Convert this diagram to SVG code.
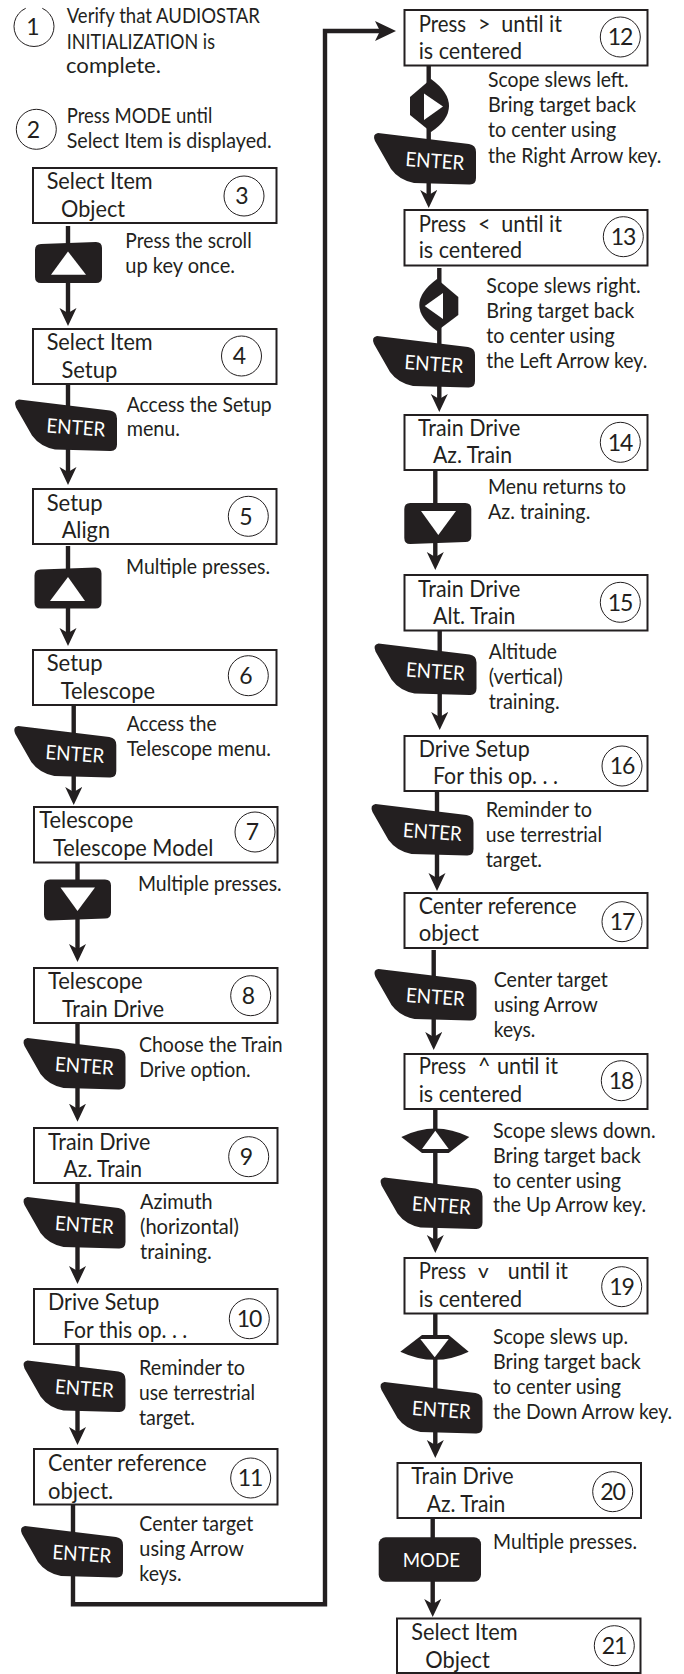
<svg xmlns="http://www.w3.org/2000/svg" width="684" height="1674" viewBox="0 0 684 1674">
<style>
text{font-family:"Lato","Open Sans","Liberation Sans",sans-serif;fill:#231f20}
.b{font-size:23px}
.d{font-size:20.5px}
.n{font-size:23px;text-anchor:middle}
.n2{font-size:23px;text-anchor:middle;letter-spacing:-1px}
.e{font-size:20px;fill:#fff}
.m{font-size:20px;fill:#fff}
.box{fill:#fff;stroke:#231f20;stroke-width:2}
.c{fill:#fff;stroke:#231f20;stroke-width:1}
.k{fill:#231f20}
.w{fill:#fff}
.l{fill:none;stroke:#231f20;stroke-width:4.4}
</style>
<defs>
<marker id="ah" markerUnits="userSpaceOnUse" markerWidth="18" markerHeight="18" refX="10" refY="8.5" orient="auto"><path d="M0,0 L18,8.5 L0,17 L5,8.5 Z" fill="#231f20"/></marker>
<marker id="ah2" markerUnits="userSpaceOnUse" markerWidth="21" markerHeight="21" refX="12" refY="10" orient="auto"><path d="M0,0 L21,10 L0,20 L5,10 Z" fill="#231f20"/></marker>
<path id="enter" d="M4,0 L95,11 Q102,12 102,19 V45 Q102,52 95,51.5 L40,50 Q25,47 17,36 L1,8 Q-2,1 4,0 Z"/>
<path id="kup" d="M6,2 L61,0 Q67,0 67,6 V35 Q67,41 61,41 H6 Q0,41 0,35 V8 Q0,2 6,2 Z"/>
<path id="kdn" d="M6,0 H61 Q67,0 67,6 V33 Q67,39 61,39 L6,41 Q0,41 0,35 V6 Q0,0 6,0 Z"/>
</defs>
<g id="connectors" class="l">
<path d="M68,226 V318" marker-end="url(#ah)"/>
<path d="M68,384 V477" marker-end="url(#ah)"/>
<path d="M68,546 V638" marker-end="url(#ah)"/>
<path d="M73.7,705 V797" marker-end="url(#ah)"/>
<path d="M77.5,863 V954" marker-end="url(#ah)"/>
<path d="M77.5,1023 V1113.700" marker-end="url(#ah)"/>
<path d="M77.5,1184 V1276" marker-end="url(#ah)"/>
<path d="M77.500,1344 V1437" marker-end="url(#ah)"/>
<path d="M73,1505 V1604.300 H325 V31 H387" marker-end="url(#ah2)"/>
<path d="M428.700,66 V200" marker-end="url(#ah)"/>
<path d="M439.300,268 V404" marker-end="url(#ah)"/>
<path d="M435.300,470 V562" marker-end="url(#ah)"/>
<path d="M439.700,631 V722" marker-end="url(#ah)"/>
<path d="M437,791 V883" marker-end="url(#ah)"/>
<path d="M433.700,950 V1042" marker-end="url(#ah)"/>
<path d="M435.300,1109 V1245" marker-end="url(#ah)"/>
<path d="M435.300,1314 V1450" marker-end="url(#ah)"/>
<path d="M432.700,1518 V1609" marker-end="url(#ah)"/>
</g>
<g id="n1"><path class="c" style="fill:none" d="M25.700,8.300 A20,20 0 1 0 42.300,8.300"/><text class="n" x="33" y="35">1</text>
<text class="d" x="66.700" y="23.300" textLength="193.300" lengthAdjust="spacingAndGlyphs">Verify that AUDIOSTAR</text>
<text class="d" x="66.700" y="48.700" textLength="148.300" lengthAdjust="spacingAndGlyphs">INITIALIZATION is</text>
<text class="d" x="66" y="73.300" textLength="95" lengthAdjust="spacingAndGlyphs">complete.</text></g>
<g id="n2"><circle class="c" cx="36.300" cy="129.300" r="20"/><text class="n" x="33.500" y="138">2</text>
<text class="d" x="66.700" y="123.300" textLength="145.600" lengthAdjust="spacingAndGlyphs">Press MODE until</text>
<text class="d" x="66.700" y="148.300" textLength="205" lengthAdjust="spacingAndGlyphs">Select Item is displayed.</text></g>
<g id="n3"><rect class="box" x="33" y="168" width="243.500" height="55"/><circle class="c" cx="244" cy="196" r="20"/><text class="n" x="242" y="203.500">3</text>
<text class="b" x="46.700" y="189.300" textLength="106" lengthAdjust="spacingAndGlyphs">Select Item</text>
<text class="b" x="61" y="217.300" textLength="64" lengthAdjust="spacingAndGlyphs">Object</text>
<use class="k" href="#kup" x="35" y="242"/><polygon class="w" points="68,251.500 51,274.700 86,274.700"/>
<text class="d" x="125.300" y="248.300" textLength="126.400" lengthAdjust="spacingAndGlyphs">Press the scroll</text>
<text class="d" x="125.300" y="273.300" textLength="109.700" lengthAdjust="spacingAndGlyphs">up key once.</text></g>
<g id="n4"><rect class="box" x="33" y="329" width="243.500" height="55"/><circle class="c" cx="241.500" cy="356" r="20"/><text class="n" x="239.500" y="364">4</text>
<text class="b" x="46.700" y="350" textLength="106" lengthAdjust="spacingAndGlyphs">Select Item</text>
<text class="b" x="61.500" y="377.700" textLength="55.800" lengthAdjust="spacingAndGlyphs">Setup</text>
<use class="k" href="#enter" x="15" y="399.500"/><text class="e" textLength="59" lengthAdjust="spacingAndGlyphs" transform="translate(46,432.500) rotate(4)">ENTER</text>
<text class="d" x="126.700" y="411.700" textLength="145" lengthAdjust="spacingAndGlyphs">Access the Setup</text>
<text class="d" x="126.700" y="436" textLength="53.300" lengthAdjust="spacingAndGlyphs">menu.</text></g>
<g id="n5"><rect class="box" x="33" y="489" width="243.500" height="55"/><circle class="c" cx="248.300" cy="516.300" r="20"/><text class="n" x="246" y="524.500">5</text>
<text class="b" x="46.700" y="511" textLength="56" lengthAdjust="spacingAndGlyphs">Setup</text>
<text class="b" x="61.700" y="538.300" textLength="48.300" lengthAdjust="spacingAndGlyphs">Align</text>
<use class="k" href="#kup" x="34.500" y="567.500"/><polygon class="w" points="68,577 50,601 85,601"/>
<text class="d" x="126" y="574" textLength="144" lengthAdjust="spacingAndGlyphs">Multiple presses.</text></g>
<g id="n6"><rect class="box" x="33" y="650" width="243.500" height="55"/><circle class="c" cx="248.300" cy="675.700" r="20"/><text class="n" x="246" y="684">6</text>
<text class="b" x="46.700" y="671" textLength="56" lengthAdjust="spacingAndGlyphs">Setup</text>
<text class="b" x="60.700" y="699" textLength="94.300" lengthAdjust="spacingAndGlyphs">Telescope</text>
<use class="k" href="#enter" x="14.300" y="726"/><text class="e" textLength="59" lengthAdjust="spacingAndGlyphs" transform="translate(45,759) rotate(4)">ENTER</text>
<text class="d" x="126.700" y="731" textLength="90" lengthAdjust="spacingAndGlyphs">Access the</text>
<text class="d" x="126.700" y="756" textLength="144.300" lengthAdjust="spacingAndGlyphs">Telescope menu.</text></g>
<g id="n7"><rect class="box" x="34" y="807" width="243.500" height="55.500"/><circle class="c" cx="255" cy="832" r="20"/><text class="n" x="252.500" y="840">7</text>
<text class="b" x="39.300" y="827.700" textLength="94" lengthAdjust="spacingAndGlyphs">Telescope</text>
<text class="b" x="53" y="855.700" textLength="160.300" lengthAdjust="spacingAndGlyphs">Telescope Model</text>
<use class="k" href="#kdn" x="44" y="879.500"/><polygon class="w" points="60.500,887.500 95,887.500 77.500,911"/>
<text class="d" x="138" y="891" textLength="143.700" lengthAdjust="spacingAndGlyphs">Multiple presses.</text></g>
<g id="n8"><rect class="box" x="34" y="968" width="243.500" height="55"/><circle class="c" cx="250.700" cy="995.700" r="20"/><text class="n" x="248.500" y="1004">8</text>
<text class="b" x="48" y="989" textLength="94.700" lengthAdjust="spacingAndGlyphs">Telescope</text>
<text class="b" x="62" y="1016.700" textLength="102" lengthAdjust="spacingAndGlyphs">Train Drive</text>
<use class="k" href="#enter" x="23.500" y="1038"/><text class="e" textLength="59" lengthAdjust="spacingAndGlyphs" transform="translate(54.500,1071) rotate(4)">ENTER</text>
<text class="d" x="139" y="1052.300" textLength="143.700" lengthAdjust="spacingAndGlyphs">Choose the Train</text>
<text class="d" x="139.300" y="1077" textLength="111.400" lengthAdjust="spacingAndGlyphs">Drive option.</text></g>
<g id="n9"><rect class="box" x="34" y="1128" width="243.500" height="55"/><circle class="c" cx="248.700" cy="1156.700" r="20"/><text class="n" x="246.500" y="1164.500">9</text>
<text class="b" x="48" y="1149.700" textLength="102.300" lengthAdjust="spacingAndGlyphs">Train Drive</text>
<text class="b" x="63.500" y="1177" textLength="78.500" lengthAdjust="spacingAndGlyphs">Az. Train</text>
<use class="k" href="#enter" x="23.500" y="1197"/><text class="e" textLength="59" lengthAdjust="spacingAndGlyphs" transform="translate(54.500,1230) rotate(4)">ENTER</text>
<text class="d" x="140" y="1209" textLength="72.700" lengthAdjust="spacingAndGlyphs">Azimuth</text>
<text class="d" x="140" y="1234" textLength="99" lengthAdjust="spacingAndGlyphs">(horizontal)</text>
<text class="d" x="140" y="1259.300" textLength="71.700" lengthAdjust="spacingAndGlyphs">training.</text></g>
<g id="n10"><rect class="box" x="34" y="1289" width="243.500" height="55"/><circle class="c" cx="249.300" cy="1318.700" r="20"/><text class="n2" x="249" y="1326.500">10</text>
<text class="b" x="48" y="1310" textLength="111.300" lengthAdjust="spacingAndGlyphs">Drive Setup</text>
<text class="b" x="63" y="1338" textLength="124.300" lengthAdjust="spacingAndGlyphs">For this op. . .</text>
<use class="k" href="#enter" x="23.500" y="1360.500"/><text class="e" textLength="59" lengthAdjust="spacingAndGlyphs" transform="translate(54.500,1393.500) rotate(4)">ENTER</text>
<text class="d" x="139" y="1375" textLength="106" lengthAdjust="spacingAndGlyphs">Reminder to</text>
<text class="d" x="139" y="1400" textLength="116" lengthAdjust="spacingAndGlyphs">use terrestrial</text>
<text class="d" x="139" y="1425" textLength="56" lengthAdjust="spacingAndGlyphs">target.</text></g>
<g id="n11"><rect class="box" x="34" y="1449" width="243.500" height="55.500"/><circle class="c" cx="250.700" cy="1478" r="20"/><text class="n2" x="250" y="1486">11</text>
<text class="b" x="48" y="1470.700" textLength="158.700" lengthAdjust="spacingAndGlyphs">Center reference</text>
<text class="b" x="48" y="1498.700" textLength="65.300" lengthAdjust="spacingAndGlyphs">object.</text>
<use class="k" href="#enter" x="21" y="1526"/><text class="e" textLength="59" lengthAdjust="spacingAndGlyphs" transform="translate(52,1559) rotate(4)">ENTER</text>
<text class="d" x="139.300" y="1531" textLength="114" lengthAdjust="spacingAndGlyphs">Center target</text>
<text class="d" x="139.300" y="1556" textLength="104.700" lengthAdjust="spacingAndGlyphs">using Arrow</text>
<text class="d" x="139.300" y="1581" textLength="42.400" lengthAdjust="spacingAndGlyphs">keys.</text></g>
<g id="n12"><rect class="box" x="404.500" y="10" width="243" height="55.500"/><circle class="c" cx="620.300" cy="37" r="20"/><text class="n2" x="620" y="45">12</text>
<text class="b" x="418.700" y="31.700" textLength="47.300" lengthAdjust="spacingAndGlyphs">Press</text>
<text class="b" x="478" y="31.700" textLength="12.500" lengthAdjust="spacingAndGlyphs">&gt;</text>
<text class="b" x="501.300" y="31.700" textLength="60.700" lengthAdjust="spacingAndGlyphs">until it</text>
<text class="b" x="418.700" y="59.300" textLength="103.300" lengthAdjust="spacingAndGlyphs">is centered</text>
<path class="k" d="M431,79 Q449,92 449,106 Q449,120 431,132 L410,115 V97 Z"/><polygon class="w" points="424,93.500 443,106.500 424,120"/>
<use class="k" href="#enter" x="374" y="133"/><text class="e" textLength="59" lengthAdjust="spacingAndGlyphs" transform="translate(405,166) rotate(4)">ENTER</text>
<text class="d" x="488" y="87.300" textLength="140.700" lengthAdjust="spacingAndGlyphs">Scope slews left.</text>
<text class="d" x="488" y="112.300" textLength="148" lengthAdjust="spacingAndGlyphs">Bring target back</text>
<text class="d" x="488" y="137.300" textLength="128.300" lengthAdjust="spacingAndGlyphs">to center using</text>
<text class="d" x="488" y="162.700" textLength="173.300" lengthAdjust="spacingAndGlyphs">the Right Arrow key.</text></g>
<g id="n13"><rect class="box" x="404.500" y="210" width="243" height="55.500"/><circle class="c" cx="623.300" cy="236.700" r="20"/><text class="n2" x="623" y="245">13</text>
<text class="b" x="418.700" y="231.700" textLength="47.300" lengthAdjust="spacingAndGlyphs">Press</text>
<text class="b" x="478" y="231.700" textLength="12.500" lengthAdjust="spacingAndGlyphs">&lt;</text>
<text class="b" x="501.300" y="231.700" textLength="60.700" lengthAdjust="spacingAndGlyphs">until it</text>
<text class="b" x="418.700" y="258.300" textLength="103.300" lengthAdjust="spacingAndGlyphs">is centered</text>
<path class="k" d="M437,279 L458.300,297 V315 L437,331 Q419.300,318 419.300,305 Q419.300,292 437,279 Z"/><polygon class="w" points="424.700,306 443,293 443,319"/>
<use class="k" href="#enter" x="373" y="336"/><text class="e" textLength="59" lengthAdjust="spacingAndGlyphs" transform="translate(404,369) rotate(4)">ENTER</text>
<text class="d" x="486.300" y="293.300" textLength="154.400" lengthAdjust="spacingAndGlyphs">Scope slews right.</text>
<text class="d" x="486.300" y="318.300" textLength="148" lengthAdjust="spacingAndGlyphs">Bring target back</text>
<text class="d" x="486.300" y="343.300" textLength="128.400" lengthAdjust="spacingAndGlyphs">to center using</text>
<text class="d" x="486.300" y="368.300" textLength="161" lengthAdjust="spacingAndGlyphs">the Left Arrow key.</text></g>
<g id="n14"><rect class="box" x="404.500" y="415" width="243" height="55"/><circle class="c" cx="620.300" cy="442.300" r="20"/><text class="n2" x="620" y="450.500">14</text>
<text class="b" x="418" y="435.700" textLength="102.300" lengthAdjust="spacingAndGlyphs">Train Drive</text>
<text class="b" x="433" y="463.300" textLength="79" lengthAdjust="spacingAndGlyphs">Az. Train</text>
<use class="k" href="#kdn" x="404.300" y="503"/><polygon class="w" points="421,511 456,511 438.300,535"/>
<text class="d" x="488" y="494" textLength="138" lengthAdjust="spacingAndGlyphs">Menu returns to</text>
<text class="d" x="488" y="519" textLength="102.300" lengthAdjust="spacingAndGlyphs">Az. training.</text></g>
<g id="n15"><rect class="box" x="404.500" y="575" width="243" height="55.500"/><circle class="c" cx="620.300" cy="602.300" r="20"/><text class="n2" x="620" y="610.500">15</text>
<text class="b" x="418" y="596.700" textLength="102.300" lengthAdjust="spacingAndGlyphs">Train Drive</text>
<text class="b" x="433" y="624.300" textLength="82.300" lengthAdjust="spacingAndGlyphs">Alt. Train</text>
<use class="k" href="#enter" x="374.500" y="643.500"/><text class="e" textLength="59" lengthAdjust="spacingAndGlyphs" transform="translate(405.500,676.500) rotate(4)">ENTER</text>
<text class="d" x="488.700" y="659.300" textLength="68.300" lengthAdjust="spacingAndGlyphs">Altitude</text>
<text class="d" x="488.700" y="684.300" textLength="74" lengthAdjust="spacingAndGlyphs">(vertical)</text>
<text class="d" x="488.700" y="709.300" textLength="71" lengthAdjust="spacingAndGlyphs">training.</text></g>
<g id="n16"><rect class="box" x="404.500" y="736" width="243" height="55"/><circle class="c" cx="622" cy="766" r="20"/><text class="n2" x="622" y="774">16</text>
<text class="b" x="418.700" y="756.700" textLength="111" lengthAdjust="spacingAndGlyphs">Drive Setup</text>
<text class="b" x="433" y="784.300" textLength="125" lengthAdjust="spacingAndGlyphs">For this op. . .</text>
<use class="k" href="#enter" x="371.500" y="804"/><text class="e" textLength="59" lengthAdjust="spacingAndGlyphs" transform="translate(402.500,837) rotate(4)">ENTER</text>
<text class="d" x="485.700" y="817.300" textLength="106.300" lengthAdjust="spacingAndGlyphs">Reminder to</text>
<text class="d" x="485.700" y="842.300" textLength="116.300" lengthAdjust="spacingAndGlyphs">use terrestrial</text>
<text class="d" x="485.700" y="867.300" textLength="56.300" lengthAdjust="spacingAndGlyphs">target.</text></g>
<g id="n17"><rect class="box" x="404.500" y="893" width="243" height="55"/><circle class="c" cx="622" cy="921.700" r="20"/><text class="n2" x="622" y="930">17</text>
<text class="b" x="418.700" y="914.300" textLength="158" lengthAdjust="spacingAndGlyphs">Center reference</text>
<text class="b" x="418.700" y="941" textLength="60.300" lengthAdjust="spacingAndGlyphs">object</text>
<use class="k" href="#enter" x="374.500" y="969"/><text class="e" textLength="59" lengthAdjust="spacingAndGlyphs" transform="translate(405.500,1002) rotate(4)">ENTER</text>
<text class="d" x="493.700" y="987.300" textLength="114" lengthAdjust="spacingAndGlyphs">Center target</text>
<text class="d" x="493.700" y="1012.300" textLength="104" lengthAdjust="spacingAndGlyphs">using Arrow</text>
<text class="d" x="493.700" y="1037.300" textLength="41.600" lengthAdjust="spacingAndGlyphs">keys.</text></g>
<g id="n18"><rect class="box" x="404.500" y="1054" width="243" height="55"/><circle class="c" cx="621.300" cy="1080.700" r="20"/><text class="n2" x="621" y="1089">18</text>
<text class="b" x="418.700" y="1074.300" textLength="47.300" lengthAdjust="spacingAndGlyphs">Press</text>
<text class="b" x="478" y="1074.300" textLength="12.500" lengthAdjust="spacingAndGlyphs">^</text>
<text class="b" x="497" y="1074.300" textLength="61" lengthAdjust="spacingAndGlyphs">until it</text>
<text class="b" x="418.700" y="1102.300" textLength="103.300" lengthAdjust="spacingAndGlyphs">is centered</text>
<path class="k" d="M401.300,1137 Q435,1120 469.300,1137 L448.700,1153 H422 Z"/><polygon class="w" points="435.300,1130.700 422,1149 448.700,1149"/>
<use class="k" href="#enter" x="380.500" y="1177.500"/><text class="e" textLength="59" lengthAdjust="spacingAndGlyphs" transform="translate(411.500,1210.500) rotate(4)">ENTER</text>
<text class="d" x="493" y="1138.300" textLength="162.700" lengthAdjust="spacingAndGlyphs">Scope slews down.</text>
<text class="d" x="493" y="1162.700" textLength="147.700" lengthAdjust="spacingAndGlyphs">Bring target back</text>
<text class="d" x="493" y="1187.700" textLength="128" lengthAdjust="spacingAndGlyphs">to center using</text>
<text class="d" x="493" y="1212.300" textLength="153" lengthAdjust="spacingAndGlyphs">the Up Arrow key.</text></g>
<g id="n19"><rect class="box" x="404.500" y="1258" width="243" height="55.500"/><circle class="c" cx="621.700" cy="1286.700" r="20"/><text class="n2" x="621.500" y="1294.500">19</text>
<text class="b" x="418.700" y="1279" textLength="47.300" lengthAdjust="spacingAndGlyphs">Press</text>
<text class="b" x="478" y="1277.500" textLength="10.700" lengthAdjust="spacingAndGlyphs" style="font-size:19px">v</text>
<text class="b" x="507.700" y="1279" textLength="60.300" lengthAdjust="spacingAndGlyphs">until it</text>
<text class="b" x="418.700" y="1306.700" textLength="103.300" lengthAdjust="spacingAndGlyphs">is centered</text>
<path class="k" d="M422,1335 H448.700 L468.700,1351.700 Q435,1368 400.300,1351.700 Z"/><polygon class="w" points="420.300,1339 448.700,1339 434.700,1357.300"/>
<use class="k" href="#enter" x="380.500" y="1382"/><text class="e" textLength="59" lengthAdjust="spacingAndGlyphs" transform="translate(411.500,1415) rotate(4)">ENTER</text>
<text class="d" x="493" y="1344.300" textLength="135" lengthAdjust="spacingAndGlyphs">Scope slews up.</text>
<text class="d" x="493" y="1369.300" textLength="147.700" lengthAdjust="spacingAndGlyphs">Bring target back</text>
<text class="d" x="493" y="1394.300" textLength="128" lengthAdjust="spacingAndGlyphs">to center using</text>
<text class="d" x="493" y="1419.300" textLength="179" lengthAdjust="spacingAndGlyphs">the Down Arrow key.</text></g>
<g id="n20"><rect class="box" x="397.500" y="1463" width="243.500" height="55"/><circle class="c" cx="612.700" cy="1491.700" r="20"/><text class="n2" x="612.500" y="1499.500">20</text>
<text class="b" x="411.300" y="1483.700" textLength="102.400" lengthAdjust="spacingAndGlyphs">Train Drive</text>
<text class="b" x="426.700" y="1511.700" textLength="78.600" lengthAdjust="spacingAndGlyphs">Az. Train</text>
<rect class="k" x="378.700" y="1537.300" width="102.300" height="44.400" rx="7"/><text class="m" x="402.700" y="1566.700" textLength="57.300" lengthAdjust="spacingAndGlyphs">MODE</text>
<text class="d" x="493" y="1549" textLength="144" lengthAdjust="spacingAndGlyphs">Multiple presses.</text></g>
<g id="n21"><rect class="box" x="397" y="1618.500" width="243.500" height="54.500"/><circle class="c" cx="614.300" cy="1645.700" r="20"/><text class="n2" x="614" y="1653.500">21</text>
<text class="b" x="411.300" y="1640" textLength="106.400" lengthAdjust="spacingAndGlyphs">Select Item</text>
<text class="b" x="425.300" y="1668.300" textLength="64.400" lengthAdjust="spacingAndGlyphs">Object</text></g>
</svg>
